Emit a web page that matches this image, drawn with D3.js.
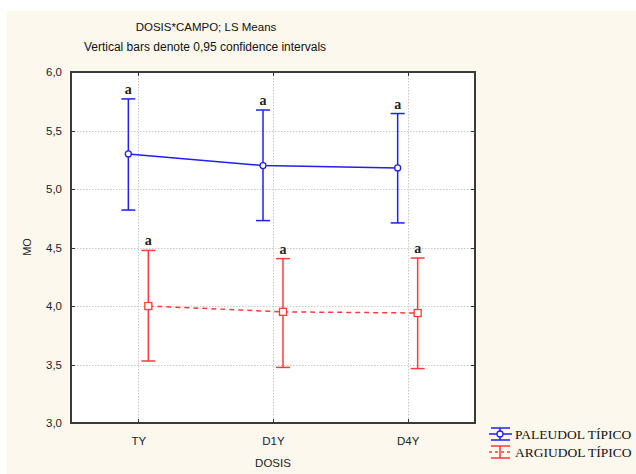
<!DOCTYPE html>
<html>
<head>
<meta charset="utf-8">
<script src="https://cdn.jsdelivr.net/npm/d3@7"></script>
<style>
  html, body { margin: 0; padding: 0; background: #ffffff; }
  svg { display: block; }
</style>
</head>
<body>
<svg id="chart" width="636" height="474"></svg>
<script>
// LS means of MO by dose, for each soil, with 95% confidence limits
const dosis = ["TY", "D1Y", "D4Y"];
const paleudolMean  = [5.30, 5.20, 5.18];
const paleudolLow   = [4.82, 4.73, 4.71];
const paleudolHigh  = [5.77, 5.675, 5.645];
const argiudolMean  = [4.00, 3.95, 3.94];
const argiudolLow   = [3.53, 3.475, 3.465];
const argiudolHigh  = [4.475, 4.405, 4.41];
const groupLetters  = ["a", "a", "a"];
const yTicks = [3.0, 3.5, 4.0, 4.5, 5.0, 5.5, 6.0];
const seriesNames = ["PALEUDOL TÍPICO", "ARGIUDOL TÍPICO"];

const svg = d3.select("#chart");
const fmt = d => d3.format(".1f")(d).replace(".", ",");

// cream page panel
svg.append("rect").attr("x", 7).attr("y", 11).attr("width", 629).attr("height", 463)
  .attr("fill", "#fdf8ee");

const plotL = 71, plotR = 475, plotT = 72, plotB = 423;
svg.append("rect").attr("x", plotL).attr("y", plotT)
  .attr("width", plotR - plotL).attr("height", plotB - plotT).attr("fill", "#ffffff");

const x = d3.scalePoint().domain(dosis).range([plotL, plotR]).padding(0.5);
const y = d3.scaleLinear().domain([3, 6]).range([plotB, plotT]);

// titles
svg.append("text").attr("x", 206).attr("y", 31).attr("text-anchor", "middle")
  .attr("font-family", "Liberation Sans, Arial, sans-serif").attr("font-size", 11.5)
  .attr("fill", "#111").text("DOSIS*CAMPO; LS Means");
svg.append("text").attr("x", 205).attr("y", 51).attr("text-anchor", "middle")
  .attr("font-family", "Liberation Sans, Arial, sans-serif").attr("font-size", 12)
  .attr("fill", "#111").text("Vertical bars denote 0,95 confidence intervals");

// dotted grid
const grid = svg.append("g").attr("stroke", "#c8c8c8").attr("stroke-width", 1)
  .attr("stroke-dasharray", "1.5,1.5");
yTicks.slice(1, -1).forEach(t => {
  grid.append("line").attr("x1", plotL).attr("x2", plotR)
    .attr("y1", Math.round(y(t)) + 0.5).attr("y2", Math.round(y(t)) + 0.5);
});
dosis.forEach(d => {
  grid.append("line").attr("y1", plotT).attr("y2", plotB)
    .attr("x1", Math.round(x(d)) + 0.5).attr("x2", Math.round(x(d)) + 0.5);
});

// axes with inward ticks on all four sides
const axisFont = "Liberation Sans, Arial, sans-serif";
const yAxis = svg.append("g").attr("transform", `translate(${plotL},0)`)
  .call(d3.axisLeft(y).tickValues(yTicks).tickFormat(fmt).tickSize(0).tickPadding(9));
yAxis.selectAll("text").attr("font-family", axisFont).attr("font-size", 11.5).attr("fill", "#222");
yAxis.select(".domain").remove();

const xAxis = svg.append("g").attr("transform", `translate(0,${plotB})`)
  .call(d3.axisBottom(x).tickSize(0).tickPadding(14));
xAxis.selectAll("text").attr("font-family", axisFont).attr("font-size", 11.5).attr("fill", "#222");
xAxis.select(".domain").remove();

const tickG = svg.append("g").attr("stroke", "#333").attr("stroke-width", 1);
yTicks.slice(1, -1).forEach(t => {
  const yy = Math.round(y(t)) + 0.5;
  tickG.append("line").attr("x1", plotL).attr("x2", plotL + 4).attr("y1", yy).attr("y2", yy);
  tickG.append("line").attr("x1", plotR - 4).attr("x2", plotR).attr("y1", yy).attr("y2", yy);
});
dosis.forEach(d => {
  const xx = Math.round(x(d)) + 0.5;
  tickG.append("line").attr("x1", xx).attr("x2", xx).attr("y1", plotB - 4).attr("y2", plotB);
  tickG.append("line").attr("x1", xx).attr("x2", xx).attr("y1", plotT).attr("y2", plotT + 4);
});

svg.append("rect").attr("x", plotL).attr("y", plotT)
  .attr("width", plotR - plotL).attr("height", plotB - plotT)
  .attr("fill", "none").attr("stroke", "#3a3a3a").attr("stroke-width", 2);

// axis titles
svg.append("text").attr("transform", `translate(31,247) rotate(-90)`)
  .attr("text-anchor", "middle").attr("font-family", axisFont).attr("font-size", 11)
  .attr("fill", "#222").text("MO");
svg.append("text").attr("x", 273).attr("y", 467).attr("text-anchor", "middle")
  .attr("font-family", axisFont).attr("font-size", 11.5).attr("fill", "#222").text("DOSIS");

// series
const series = [
  { name: seriesNames[0], mean: paleudolMean, low: paleudolLow, high: paleudolHigh,
    color: "#1f1fee", dx: -10, dash: null, marker: "circle" },
  { name: seriesNames[1], mean: argiudolMean, low: argiudolLow, high: argiudolHigh,
    color: "#ff3b3b", dx: 10, dash: "5,4", marker: "square" }
];

series.forEach(s => {
  const pts = dosis.map((d, i) => ({
    x: x(d) + s.dx, m: s.mean[i], lo: s.low[i], hi: s.high[i], letter: groupLetters[i]
  }));
  const g = svg.append("g");
  g.append("path").datum(pts)
    .attr("d", d3.line().x(p => p.x).y(p => y(p.m)))
    .attr("fill", "none").attr("stroke", s.color).attr("stroke-width", 1.5)
    .attr("stroke-dasharray", s.dash);
  pts.forEach(p => {
    g.append("line").attr("x1", p.x).attr("x2", p.x).attr("y1", y(p.hi)).attr("y2", y(p.lo))
      .attr("stroke", s.color).attr("stroke-width", 1.5);
    [p.hi, p.lo].forEach(v => {
      g.append("line").attr("x1", p.x - 7).attr("x2", p.x + 7).attr("y1", y(v)).attr("y2", y(v))
        .attr("stroke", s.color).attr("stroke-width", 1.5);
    });
    if (s.marker === "circle") {
      g.append("circle").attr("cx", p.x).attr("cy", y(p.m)).attr("r", 3)
        .attr("fill", "#fff").attr("stroke", s.color).attr("stroke-width", 1.3);
    } else {
      g.append("rect").attr("x", p.x - 3.5).attr("y", y(p.m) - 3.5).attr("width", 7).attr("height", 7)
        .attr("fill", "#fff").attr("stroke", s.color).attr("stroke-width", 1.3);
    }
    g.append("text").attr("x", p.x).attr("y", y(p.hi) - 5).attr("text-anchor", "middle")
      .attr("font-family", "Liberation Serif, Times New Roman, serif").attr("font-size", 14)
      .attr("font-weight", "bold").attr("fill", "#222").text(p.letter);
  });
});

// legend
const legend = svg.append("g");
series.forEach((s, i) => {
  const cy = 434 + i * 18, x0 = 489, x1 = 512, xc = 500;
  const lg = legend.append("g");
  lg.append("line").attr("x1", x0).attr("x2", x1).attr("y1", cy).attr("y2", cy)
    .attr("stroke", s.color).attr("stroke-width", 1.5).attr("stroke-dasharray", s.dash ? "3,3" : null);
  lg.append("line").attr("x1", xc).attr("x2", xc).attr("y1", cy - 6).attr("y2", cy + 6)
    .attr("stroke", s.color).attr("stroke-width", 1.5);
  [cy - 6, cy + 6].forEach(yy => {
    lg.append("line").attr("x1", x0 + 2).attr("x2", x1 - 2).attr("y1", yy).attr("y2", yy)
      .attr("stroke", s.color).attr("stroke-width", 1.5);
  });
  if (s.marker === "circle") {
    lg.append("circle").attr("cx", xc).attr("cy", cy).attr("r", 3)
      .attr("fill", "#fff").attr("stroke", s.color).attr("stroke-width", 1.3);
  }
  lg.append("text").attr("x", 515).attr("y", cy + 4.5)
    .attr("font-family", "Liberation Serif, Times New Roman, serif").attr("font-size", 13.5)
    .attr("fill", "#111").text(s.name);
});
</script>
</body>
</html>
